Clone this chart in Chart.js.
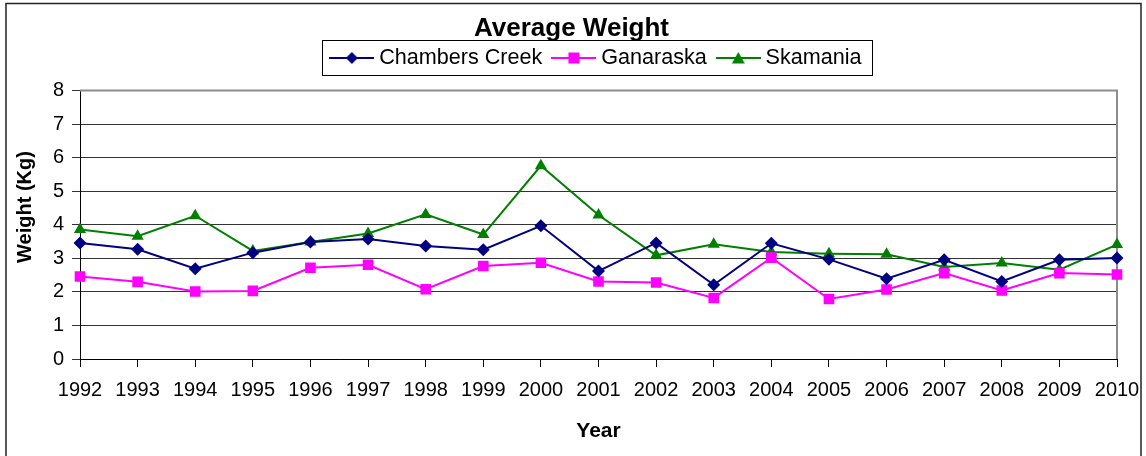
<!DOCTYPE html>
<html>
<head>
<meta charset="utf-8">
<script src="https://cdn.jsdelivr.net/npm/chart.js@4/dist/chart.umd.min.js"></script>
<style>
  html, body { margin: 0; padding: 0; background: #fff; }
  #wrap { width: 1146px; height: 456px; }
</style>
</head>
<body>
<div id="wrap"><canvas id="weight-chart" width="1146" height="456"></canvas></div>
<script>
// Data
var years = ["1992", "1993", "1994", "1995", "1996", "1997", "1998", "1999", "2000", "2001",
  "2002", "2003", "2004", "2005", "2006", "2007", "2008", "2009", "2010"];
var chambers_creek = [3.46, 3.27, 2.69, 3.17, 3.49, 3.58, 3.37, 3.26, 3.97, 2.62,
  3.46, 2.21, 3.45, 2.97, 2.39, 2.96, 2.31, 2.96, 3.01];
var ganaraska = [2.46, 2.30, 2.01, 2.03, 2.72, 2.81, 2.08, 2.77, 2.87, 2.31,
  2.28, 1.82, 3.02, 1.79, 2.07, 2.56, 2.04, 2.56, 2.52];
var skamania = [3.86, 3.66, 4.27, 3.22, 3.49, 3.74, 4.31, 3.71, 5.76, 4.29,
  3.09, 3.42, 3.19, 3.14, 3.12, 2.74, 2.86, 2.66, 3.41];
var y_ticks = [0, 1, 2, 3, 4, 5, 6, 7, 8];
var y_title = "Weight (Kg)";

var FONT = "'Liberation Sans', Arial, sans-serif";

// legend icon: line with marker through it, like Excel
function legendIcon(color, style) {
  var c = document.createElement("canvas");
  c.width = 45;
  c.height = 16;
  var g = c.getContext("2d");
  g.strokeStyle = color;
  g.lineWidth = 2;
  g.beginPath();
  g.moveTo(0, 8);
  g.lineTo(45, 8);
  g.stroke();
  g.fillStyle = color;
  g.beginPath();
  if (style == "rectRot") {
    g.moveTo(22.5, 2); g.lineTo(28.5, 8); g.lineTo(22.5, 14); g.lineTo(16.5, 8);
  } else if (style == "rect") {
    g.rect(17, 2.5, 11, 11);
  } else {
    g.moveTo(22.5, 2); g.lineTo(29, 13.5); g.lineTo(16, 13.5);
  }
  g.closePath();
  g.fill();
  return c;
}

// outer frame, plot frame, legend box and y axis title
var framePlugin = {
  id: "frames",
  beforeDraw: function (chart) {
    var c = chart.ctx;
    c.save();
    c.strokeStyle = "#222";
    c.lineWidth = 1.5;
    c.strokeRect(6, 3.5, 1135, 470);
    c.restore();
  },
  beforeDatasetsDraw: function (chart) {
    var c = chart.ctx;
    var a = chart.chartArea;
    c.save();
    c.strokeStyle = "#8c8c8c";
    c.lineWidth = 2;
    c.beginPath();
    c.moveTo(a.left, a.top);
    c.lineTo(a.right, a.top);
    c.lineTo(a.right, a.bottom);
    c.stroke();
    c.restore();
  },
  afterDraw: function (chart) {
    var c = chart.ctx;
    var lg = chart.legend;
    if (lg && lg.legendHitBoxes && lg.legendHitBoxes.length) {
      var boxes = lg.legendHitBoxes;
      var l = boxes[0].left, r = 0, t = boxes[0].top, b = 0;
      for (var i = 0; i < boxes.length; i++) {
        l = Math.min(l, boxes[i].left);
        r = Math.max(r, boxes[i].left + boxes[i].width);
        t = Math.min(t, boxes[i].top);
        b = Math.max(b, boxes[i].top + boxes[i].height);
      }
      c.save();
      c.strokeStyle = "#000";
      c.lineWidth = 1;
      c.strokeRect(Math.round(l - 13) + 0.5, Math.round(t - 7) + 0.5,
        Math.round(r - l + 24), Math.round(b - t + 13));
      c.restore();
    }
    // y axis title
    c.save();
    c.translate(25, 207);
    c.rotate(-Math.PI / 2);
    c.fillStyle = "#000";
    c.font = "bold 20px " + FONT;
    c.textAlign = "center";
    c.textBaseline = "middle";
    c.fillText(y_title, 0, 0);
    c.restore();
  },
};

var ctx = document.getElementById("weight-chart").getContext("2d");
var weight_chart = new Chart(ctx, {
  type: "line",
  data: {
    labels: years,
    datasets: [
      {
        label: "Chambers Creek",
        data: chambers_creek,
        borderColor: "#000080",
        backgroundColor: "#000080",
        pointStyle: "rectRot",
        pointRadius: 6.5,
        legendIcon: legendIcon("#000080", "rectRot"),
      },
      {
        label: "Ganaraska",
        data: ganaraska,
        borderColor: "#ff00ff",
        backgroundColor: "#ff00ff",
        pointStyle: "rect",
        pointRadius: 7.5,
        legendIcon: legendIcon("#ff00ff", "rect"),
      },
      {
        label: "Skamania",
        data: skamania,
        borderColor: "#008000",
        backgroundColor: "#008000",
        pointStyle: "triangle",
        pointRadius: 7,
        legendIcon: legendIcon("#008000", "triangle"),
      },
    ],
  },
  options: {
    responsive: false,
    animation: false,
    devicePixelRatio: 1,
    layout: { padding: { left: 26, right: 29, top: 0, bottom: 0 } },
    elements: {
      line: { borderWidth: 2, tension: 0 },
      point: { borderWidth: 0, hoverRadius: 6 },
    },
    plugins: {
      title: {
        display: true,
        text: "Average Weight",
        color: "#000",
        font: { family: FONT, size: 26, weight: "bold", lineHeight: 0.323 },
        padding: { top: 24.8, bottom: -1 },
      },
      // empty spacer between legend and plot
      subtitle: {
        display: true,
        text: "",
        weight: 500,
        font: { size: 10, lineHeight: 1 },
        padding: { top: 0, bottom: 1.8 },
      },
      legend: {
        display: true,
        fullSize: false,
        labels: {
          color: "#000",
          font: { family: FONT, size: 21.6 },
          usePointStyle: true,
          boxHeight: 16,
          pointStyleWidth: 33,
          padding: 15,
          generateLabels: function (chart) {
            return chart.data.datasets.map(function (ds, i) {
              return {
                text: ds.label,
                pointStyle: ds.legendIcon,
                fillStyle: ds.backgroundColor,
                strokeStyle: ds.borderColor,
                lineWidth: 0,
                hidden: false,
                datasetIndex: i,
                fontColor: "#000",
              };
            });
          },
        },
      },
      tooltip: { enabled: false },
    },
    scales: {
      x: {
        offset: false,
        grid: {
          display: true,
          drawOnChartArea: false,
          drawTicks: true,
          tickLength: 8,
          color: "#000",
        },
        border: { color: "#000", width: 1 },
        ticks: {
          color: "#000",
          font: { family: FONT, size: 20 },
          maxRotation: 0,
          autoSkip: false,
          padding: 11,
        },
        title: {
          display: true,
          text: "Year",
          color: "#000",
          font: { family: FONT, size: 21, weight: "bold" },
          padding: { top: 0, bottom: 12.4 },
        },
        afterFit: function (scale) {
          scale.height = 456 - 359;
          scale.paddingLeft = 0;
          scale.paddingRight = 0;
        },
      },
      y: {
        min: 0,
        max: 8,
        afterBuildTicks: function (scale) {
          scale.ticks = y_ticks.map(function (v) { return { value: v }; });
        },
        grid: {
          color: "#333",
          lineWidth: 1,
          tickLength: 8,
        },
        border: { color: "#000", width: 1 },
        ticks: {
          color: "#000",
          font: { family: FONT, size: 20 },
          padding: 8,
        },
        afterFit: function (scale) {
          scale.width = 80 - 26;
        },
      },
    },
  },
  plugins: [framePlugin],
});
</script>
</body>
</html>
